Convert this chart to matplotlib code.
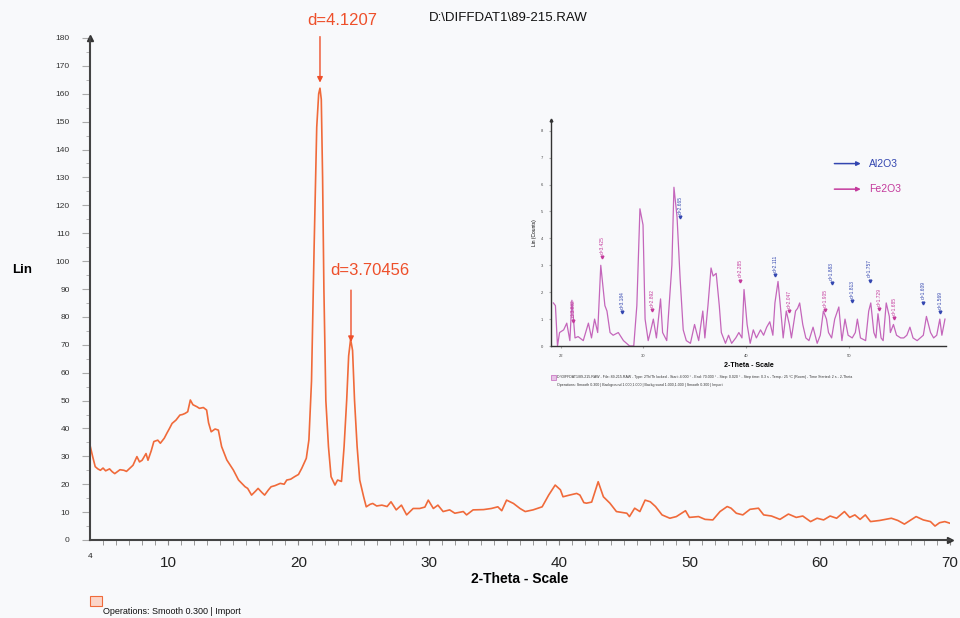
import numpy as np
import matplotlib.pyplot as plt
from matplotlib.patches import Rectangle

plt.rcParams['font.family'] = ['Liberation Sans', 'DejaVu Sans']

# ---- main pattern (2-Theta, Lin) ----
two_theta = [4.0, 4.2, 4.4, 4.6, 4.8, 5.0, 5.2, 5.5, 5.7, 5.9, 6.1, 6.3, 6.6, 6.8, 7.0,
             7.3, 7.6, 7.8, 8.0, 8.3, 8.45, 8.7, 8.9, 9.2, 9.4, 9.7, 9.9, 10.1, 10.3,
             10.6, 10.9, 11.1, 11.3, 11.5, 11.7, 11.9, 12.2, 12.4, 12.7, 12.95, 13.1,
             13.3, 13.6, 13.85, 14.1, 14.5, 15.0, 15.4, 15.9, 16.1, 16.4, 16.7, 16.9,
             17.2, 17.4, 17.7, 17.9, 18.2, 18.6, 18.9, 19.1, 19.4, 19.7, 20.0, 20.25,
             20.6, 20.8, 21.0, 21.2, 21.4, 21.55, 21.65, 21.75, 21.85, 21.95, 22.1, 22.3, 22.5,
             22.8, 23.0, 23.3, 23.5, 23.7, 23.85, 24.0, 24.15, 24.3, 24.5, 24.7, 25.0,
             25.2, 25.5, 25.7, 26.0, 26.4, 26.8, 27.1, 27.5, 27.9, 28.3, 28.8, 29.3,
             29.7, 29.96, 30.35, 30.7, 31.1, 31.6, 32.0, 32.65, 32.9, 33.4, 34.2, 34.8,
             35.3, 35.6, 35.97, 36.5, 37.0, 37.4, 38.0, 38.7, 39.2, 39.7, 40.1, 40.3,
             40.8, 41.35, 41.6, 41.9, 42.1, 42.5, 43.0, 43.4, 43.9, 44.4, 45.2, 45.4,
             45.8, 46.2, 46.6, 47.0, 47.4, 47.9, 48.5, 49.0, 49.7, 50.0, 50.7, 51.2,
             51.8, 52.35, 52.9, 53.2, 53.6, 54.1, 54.65, 55.3, 55.7, 56.3, 56.95, 57.6,
             58.2, 58.7, 59.3, 59.8, 60.3, 60.8, 61.3, 61.9, 62.3, 62.7, 63.1, 63.5,
             63.9, 64.6, 65.5, 66.0, 66.5, 67.4, 67.95, 68.5, 68.85, 69.2, 69.6, 70.0]
lin = [34, 30, 26.3, 25.5, 25, 25.8, 24.8, 25.5, 24.5, 23.8, 24.5, 25.2, 25.0, 24.6, 25.5,
       26.8, 29.9, 28.0, 28.6, 31, 28.6, 32, 35.3, 35.8, 34.7, 36.5, 38.3, 40, 41.8,
       43, 44.8, 45.0, 45.4, 46, 50.2, 48.5, 47.8, 47.2, 47.5, 46.6, 42,
       38.8, 39.8, 39.4, 33.5, 28.7, 25.1, 21.5, 19.1, 18.5, 16.1, 17.5, 18.5,
       17.0, 16.1, 18.0, 19.1, 19.5, 20.3, 20.0, 21.5, 21.8, 22.7, 23.5, 25.7,
       29.3, 35.9, 57, 105, 148, 160, 162, 158, 130, 90, 50, 33.5, 22.7,
       19.7, 21.5, 21.0, 33.5, 50.2, 66, 72, 68, 50.2, 33.5, 21.5, 15.5,
       11.9, 12.8, 13.1, 12.2, 12.5, 12.0, 13.7, 10.8, 12.5, 9.0, 11.3, 11.3,
       11.8, 14.3, 11.3, 12.5, 10.2, 10.8, 9.6, 10.2, 9.0, 10.8, 10.9, 11.3,
       11.9, 10.5, 14.3, 13.1, 11.3, 10.2, 10.8, 11.9, 16.1, 19.7, 18.0, 15.5,
       16.1, 16.7, 16.1, 13.4, 13.2, 13.6, 20.9, 15.5, 13.2, 10.2, 9.6, 8.4,
       11.4, 10.2, 14.3, 13.7, 12.0, 9.0, 7.8, 8.4, 10.5, 8.1, 8.4, 7.4,
       7.2, 10.2, 12.0, 11.4, 9.6, 9.0, 11.0, 11.4, 9.0, 8.6, 7.4, 9.3,
       8.1, 8.6, 6.6, 7.8, 7.2, 8.6, 7.8, 10.2, 8.1, 9.0, 7.4, 9.0,
       6.6, 7.0, 7.8, 7.0, 5.7, 8.4, 7.2, 6.6, 5.0, 6.2, 6.6, 6.0]

peak_theta = [21.65, 24.03]
peak_tip = [164, 71]
peak_top = [180.5, 89.6]
peak_labels = ['d=4.1207', 'd=3.70456']
label_xy = [(23.34, 186.4), (25.5, 96.8)]

# ---- inset pattern ----
inset_theta = [21.3, 21.5, 21.7, 21.9, 22.3, 22.6, 22.9, 23.1, 23.4, 23.7, 24.2, 24.7,
               25.0, 25.3, 25.6, 25.9, 26.3, 26.5, 26.8, 27.1, 27.6, 28.1, 28.4, 28.7,
               29.1, 29.4, 29.7, 30.0, 30.2, 30.5, 30.7, 31.0, 31.3, 31.7, 31.9, 32.3,
               32.8, 33.0, 33.3, 33.6, 33.9, 34.2, 34.6, 35.0, 35.4, 35.8, 36.0, 36.3,
               36.6, 36.8, 37.1, 37.4, 37.6, 38.0, 38.3, 38.6, 39.0, 39.3, 39.6, 39.8,
               40.1, 40.4, 40.7, 41.0, 41.4, 41.7, 42.0, 42.3, 42.6, 42.8, 43.1, 43.3,
               43.6, 43.9, 44.2, 44.4, 44.8, 45.0, 45.2, 45.5, 45.8, 46.1, 46.5, 46.9,
               47.2, 47.5, 47.8, 48.0, 48.3, 48.6, 49.0, 49.3, 49.6, 49.9, 50.3, 50.6,
               50.8, 51.1, 51.6, 51.9, 52.1, 52.4, 52.6, 52.8, 53.1, 53.3, 53.6, 53.9,
               54.0, 54.3, 54.6, 55.0, 55.3, 55.6, 55.9, 56.2, 56.6, 56.9, 57.2, 57.5,
               57.9, 58.2, 58.5, 58.8, 59.0, 59.3]
inset_counts = [1.6, 1.5, 0.0, 0.5, 0.6, 0.85, 0.2, 1.7, 0.3, 0.35, 0.2, 0.85,
                0.3, 1.0, 0.5, 3.0, 1.5, 1.3, 0.5, 0.4, 0.5, 0.2, 0.1, 0.0,
                0.0, 1.5, 5.1, 4.5, 1.0, 0.2, 0.5, 1.0, 0.3, 1.75, 0.5, 0.2,
                3.0, 5.9, 4.8, 2.5, 0.6, 0.2, 0.1, 0.8, 0.2, 1.3, 0.3, 1.5,
                2.9, 2.6, 2.7, 1.5, 0.5, 0.1, 0.4, 0.1, 0.3, 0.5, 0.3, 2.1,
                0.8, 0.1, 0.6, 0.3, 0.6, 0.4, 0.7, 0.9, 0.4, 1.6, 2.4, 1.6,
                0.3, 1.3, 0.8, 0.3, 1.3, 1.4, 1.6, 0.8, 0.3, 0.2, 0.7, 0.1,
                0.4, 1.3, 1.0, 0.5, 0.3, 1.0, 1.45, 0.2, 1.0, 0.4, 0.3, 0.5,
                1.0, 0.3, 0.2, 1.3, 1.6, 0.5, 0.3, 1.2, 0.3, 0.2, 1.6, 1.1,
                0.5, 0.8, 0.4, 0.3, 0.3, 0.4, 0.7, 0.3, 0.2, 0.3, 0.4, 1.1,
                0.5, 0.3, 0.4, 1.0, 0.4, 1.0]

fe_theta = [23.2, 26.0, 30.9, 39.4, 44.2, 47.7, 52.9, 54.4]
fe_tip = [0.94, 3.3, 1.34, 2.43, 1.29, 1.34, 1.36, 1.03]
fe_labels = ['d=3.832', 'd=3.425', 'd=2.892', 'd=2.285', 'd=2.047', 'd=1.905', 'd=1.729', 'd=1.685']
al_theta = [28.0, 33.6, 42.8, 48.3, 50.3, 52.0, 57.2, 58.8]
al_tip = [1.25, 4.8, 2.64, 2.33, 1.68, 2.43, 1.61, 1.27]
al_labels = ['d=3.184', 'd=2.665', 'd=2.111', 'd=1.883', 'd=1.813', 'd=1.757', 'd=1.609', 'd=1.569']

bg = '#f8f9fb'
orange = '#f06a3a'
red = '#ee4f2a'
pink = '#c466bb'
magenta = '#c43a9c'
blue = '#3346b0'

fig = plt.figure(figsize=(9.6, 6.18), dpi=100, facecolor=bg)
ax = fig.add_axes([90 / 960, 78 / 618, 860 / 960, 502 / 618], facecolor=bg)

ax.plot(two_theta, lin, color=orange, lw=1.2)
ax.set_xlim(4, 70)
ax.set_ylim(0, 180)

for s in ['top', 'right']:
    ax.spines[s].set_visible(False)
for s in ['left', 'bottom']:
    ax.spines[s].set_color('#444444')
    ax.spines[s].set_linewidth(1.5)
ax.plot(0, 1, '^', transform=ax.transAxes, clip_on=False, ms=4, color='#333333')
ax.plot(1, 0, '>', transform=ax.transAxes, clip_on=False, ms=4, color='#333333')

ax.set_yticks(np.arange(0, 181, 10))
ax.set_yticks(np.arange(5, 180, 10), minor=True)
ax.tick_params(axis='y', which='major', length=5.5, color='#aaaaaa', labelsize=6, pad=9,
               labelcolor='#333333')
ax.tick_params(axis='y', which='minor', length=3, color='#aaaaaa')
ax.set_xticks(np.arange(10, 71, 10))
ax.set_xticks(np.arange(5, 70, 1), minor=True)
ax.tick_params(axis='x', which='both', length=3.5, color='#888888', labelsize=11, pad=8,
               labelcolor='#222222')
ax.text(4, -4.5, '4', fontsize=6, ha='center', va='top', color='#222222')

ax.set_xlabel('2-Theta - Scale', fontsize=10, fontweight='bold', labelpad=1.5)
fig.text(12 / 960, 1 - 270 / 618, 'Lin', fontsize=9.5, fontweight='bold', va='center')

for x, tip, top, lab, (tx, ty) in zip(peak_theta, peak_tip, peak_top, peak_labels, label_xy):
    ax.annotate('', xy=(x, tip), xytext=(x, top), annotation_clip=False,
                arrowprops=dict(arrowstyle='-|>', color=red, lw=1.0, mutation_scale=8,
                                shrinkA=0, shrinkB=0))
    ax.text(tx, ty, lab, color=red, fontsize=12, ha='center', va='center', clip_on=False)

fig.text(508 / 960, 1 - 18 / 618, 'D:\\DIFFDAT1\\89-215.RAW', fontsize=9.5,
         ha='center', va='center', color='#111111')

# bottom legend entry
fig.patches.append(Rectangle((90 / 960, 1 - 606 / 618), 12 / 960, 10 / 618,
                             transform=fig.transFigure, facecolor='#fbd5c8',
                             edgecolor=orange, lw=0.8))
fig.text(103 / 960, 1 - 612 / 618, 'Operations: Smooth 0.300 | Import', fontsize=6.5,
         va='center', color='#111111')

# ---- inset ----
ax_in = fig.add_axes([551 / 960, 272 / 618, 395 / 960, 226 / 618], facecolor=bg)
ax_in.plot(inset_theta, inset_counts, color=pink, lw=0.9)
ax_in.set_xlim(21.07, 59.4)
ax_in.set_ylim(0, 8.4)
for s in ['top', 'right']:
    ax_in.spines[s].set_visible(False)
for s in ['left', 'bottom']:
    ax_in.spines[s].set_color('#333333')
    ax_in.spines[s].set_linewidth(1.0)
ax_in.plot(0, 1, '^', transform=ax_in.transAxes, clip_on=False, ms=2, color='#333333')
ax_in.set_yticks(np.arange(0, 9, 1))
ax_in.set_xticks([22, 30, 40, 50])
ax_in.tick_params(labelsize=3, length=1.5, color='#aaaaaa', pad=4, labelcolor='#444444')
ax_in.set_ylabel('Lin (Counts)', fontsize=3.5, labelpad=3)
ax_in.set_xlabel('2-Theta - Scale', fontsize=5, fontweight='bold', labelpad=3)

for x, tip, lab in zip(fe_theta, fe_tip, fe_labels):
    ax_in.plot(x, tip, 'v', ms=2, color=magenta)
    ax_in.text(x, tip + 0.12, lab, rotation=90, fontsize=3.5, color=magenta,
               ha='center', va='bottom')
for x, tip, lab in zip(al_theta, al_tip, al_labels):
    ax_in.plot(x, tip, 'v', ms=2, color=blue)
    ax_in.text(x, tip + 0.12, lab, rotation=90, fontsize=3.5, color=blue,
               ha='center', va='bottom')

ax_in.annotate('', xy=(51.4, 6.78), xytext=(48.3, 6.78),
               arrowprops=dict(arrowstyle='-|>', color=blue, lw=1.1, mutation_scale=6))
ax_in.text(51.9, 6.78, 'Al2O3', color=blue, fontsize=7.5, va='center')
ax_in.annotate('', xy=(51.4, 5.83), xytext=(48.3, 5.83),
               arrowprops=dict(arrowstyle='-|>', color=magenta, lw=1.1, mutation_scale=6))
ax_in.text(51.9, 5.83, 'Fe2O3', color=magenta, fontsize=7.5, va='center')

fig.patches.append(Rectangle((551 / 960, 1 - 380 / 618), 5 / 960, 5 / 618,
                             transform=fig.transFigure, facecolor='#e6c3e6',
                             edgecolor=pink, lw=0.5))
fig.text(557 / 960, 1 - 377 / 618,
         'D:\\DIFFDAT1\\89-215.RAW - File: 89-215.RAW - Type: 2Th/Th locked - Start: 4.000 \u00b0 - '
         'End: 70.000 \u00b0 - Step: 0.020 \u00b0 - Step time: 0.3 s - Temp.: 25 \u00b0C (Room) - '
         'Time Started: 2 s - 2-Theta',
         fontsize=2.6, va='center', color='#333333')
fig.text(557 / 960, 1 - 385 / 618,
         'Operations: Smooth 0.300 | Background 1.000,1.000 | Background 1.000,1.000 | '
         'Smooth 0.300 | Import',
         fontsize=2.6, va='center', color='#333333')

fig.savefig('out.png', dpi=100, facecolor=bg)
